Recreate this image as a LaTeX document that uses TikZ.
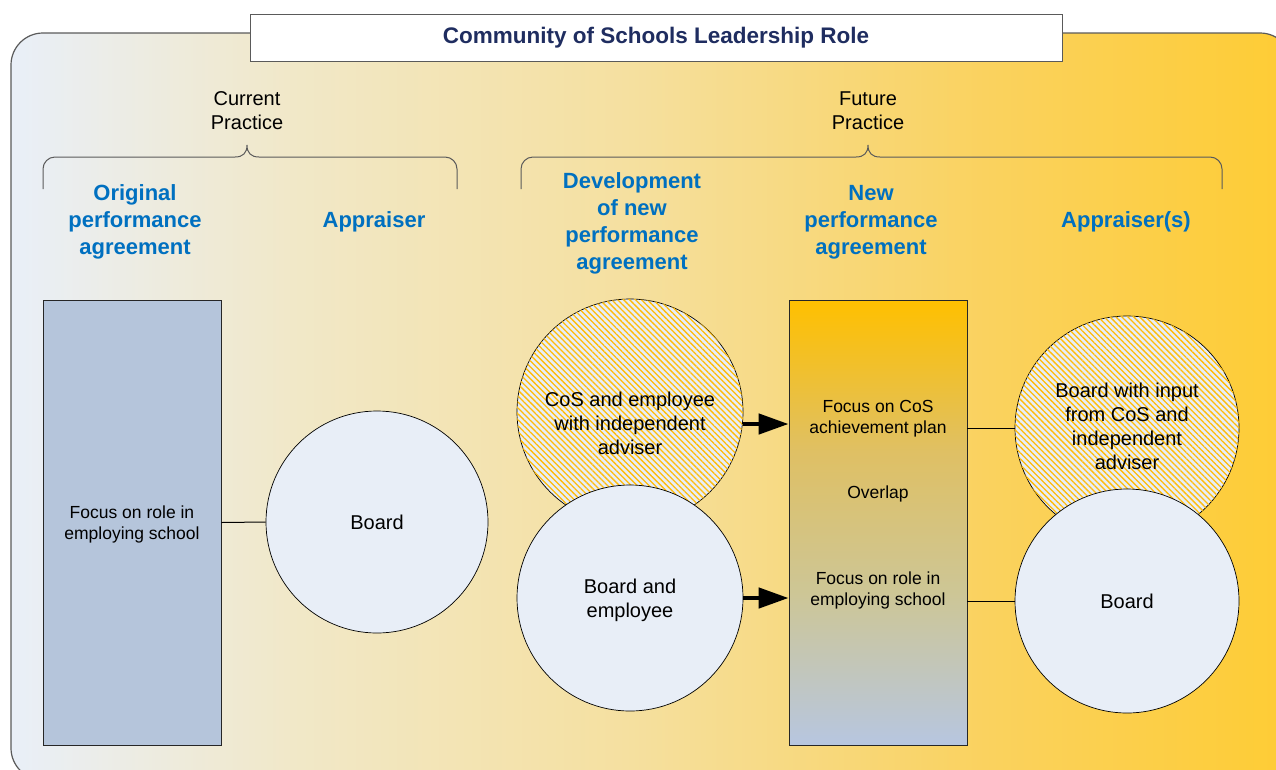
\documentclass[tikz,border=0pt]{standalone}
\usepackage{fontspec}
\setmainfont{Liberation Sans}
\usetikzlibrary{positioning,arrows.meta,patterns.meta}

\definecolor{framegray}{RGB}{90,90,90}
\definecolor{titlenavy}{RGB}{31,45,96}
\definecolor{headblue}{RGB}{0,112,192}
\definecolor{rectblue}{RGB}{181,197,219}
\definecolor{circlefill}{RGB}{232,238,247}
\definecolor{hatchorange}{RGB}{255,188,10}
\definecolor{bgA}{RGB}{233,239,248}
\definecolor{bgB}{RGB}{241,232,200}
\definecolor{bgC}{RGB}{245,224,160}
\definecolor{bgD}{RGB}{250,210,95}
\definecolor{bgE}{RGB}{254,204,52}
\definecolor{focA}{RGB}{255,192,0}
\definecolor{focB}{RGB}{223,192,100}
\definecolor{focC}{RGB}{205,198,150}
\definecolor{focD}{RGB}{183,198,224}

% path box maps onto 25bp..75bp
\pgfdeclarehorizontalshading{backshade}{100bp}{color(0bp)=(bgA); color(25bp)=(bgA);
  color(36bp)=(bgB); color(49bp)=(bgC); color(63bp)=(bgD); color(75bp)=(bgE); color(100bp)=(bgE)}
\pgfdeclareverticalshading{focusshade}{100bp}{color(0bp)=(focD); color(25bp)=(focD);
  color(42bp)=(focC); color(58bp)=(focB); color(75bp)=(focA); color(100bp)=(focA)}

\newcommand\practicebrace[3]{% left, tip, right
  \draw[framegray, line width=1pt] (#1,189) -- (#1,169) arc (180:90:12pt) -- (#2-12,157)
    .. controls (#2-4,157) and (#2,153) .. (#2,145)
    .. controls (#2,153) and (#2+4,157) .. (#2+12,157) -- (#3-12,157) arc (90:0:12pt) -- (#3,189);
}

\tikzset{
  headtext/.style={text=headblue, font=\fontsize{22}{27}\selectfont\bfseries, align=center, inner sep=0pt},
  practext/.style={font=\fontsize{20}{24}\selectfont, align=center, inner sep=0pt},
  focustext/.style={font=\fontsize{17.5}{21.5}\selectfont, align=center, inner sep=0pt},
  focusbox/.style={draw=black!85, line width=0.8pt, minimum width=178pt, minimum height=445pt,
    inner sep=0pt},
  rolecircle/.style={circle, draw=black, line width=0.7pt, fill=circlefill,
    font=\fontsize{20}{24}\selectfont, align=center, inner sep=0pt},
  hatched/.style={postaction={pattern={Lines[angle=-45,distance=4.2pt,line width=1.3pt]},
    pattern color=hatchorange}},
  bigarrow/.style={line width=4.5pt, -{Triangle[length=30pt,width=20pt]}},
  joinline/.style={line width=1pt}
}

\begin{document}
\begin{tikzpicture}[x=1pt,y=-1pt]
\useasboundingbox (0,0) rectangle (1276,769);
\clip (0,0) rectangle (1276,769);

% outer frame
\draw[framegray, line width=1.2pt, rounded corners=32pt, shading=backshade]
  (11,33) rectangle (1292,780);

% title
\node[draw=framegray, line width=1pt, fill=white, minimum width=812pt, minimum height=47pt,
  text=titlenavy, font=\fontsize{22.5}{27}\selectfont\bfseries] (title) at (656,37.5)
  {Community of Schools Leadership Role};

% practice groups
\node[practext] (current) at (247,111) {Current\\Practice};
\node[practext] (future) at (868,111) {Future\\Practice};
\practicebrace{43}{247}{457}
\practicebrace{521}{868}{1222}

% headings
\node[headtext] (origagree) at (135,222) {Original\\performance\\agreement};
\node[headtext] (appraiser) at (374,222) {Appraiser};
\node[headtext] (devnew) at (632,223.5) {Development\\of new\\performance\\agreement};
\node[headtext] (newagree) at (871,222) {New\\performance\\agreement};
\node[headtext] (appraisers) at (1126,222) {Appraiser(s)};

% current practice
\node[focusbox, fill=rectblue] (oldrole) at (132,522.5) {};
\node[focustext] (oldroletext) at (132,524.5) {Focus on role in\\employing school};
\node[rolecircle, minimum size=222pt] (board) at (377,522) {Board};
\draw[joinline] (oldrole.east) -- (board.west);

% future practice
\node[rolecircle, hatched, minimum size=226pt] (cosadv) at (630,412) {};
\node[practext] (cosadvtext) at (630,423) {CoS and employee\\with independent\\adviser};
\node[rolecircle, minimum size=226pt] (boardemp) at (630,598) {};
\node[practext] (boardemptext) at (630,600) {Board and\\employee};

\node[focusbox, shading=focusshade] (newrole) at (878,522.5) {};
\node[focustext] (cosfocus) at (878,418.5) {Focus on CoS\\achievement plan};
\node[focustext] (overlap) at (878,494) {Overlap};
\node[focustext] (rolefocus) at (878,590.5) {Focus on role in\\employing school};

\draw[bigarrow] ([yshift=-12pt]cosadv.east) -- ([yshift=-12pt]cosadv.east -| newrole.west);
\draw[bigarrow] (boardemp.east) -- (boardemp.east -| newrole.west);

\node[rolecircle, hatched, minimum size=224pt] (cosinput) at (1127,428) {};
\node[practext] (cosinputtext) at (1127,426.5) {Board with input\\from CoS and\\independent\\adviser};
\node[rolecircle, minimum size=224pt] (boardright) at (1127,601) {Board};

\draw[joinline] (cosinput.west -| newrole.east) -- (cosinput.west);
\draw[joinline] (boardright.west -| newrole.east) -- (boardright.west);
\end{tikzpicture}
\end{document}
